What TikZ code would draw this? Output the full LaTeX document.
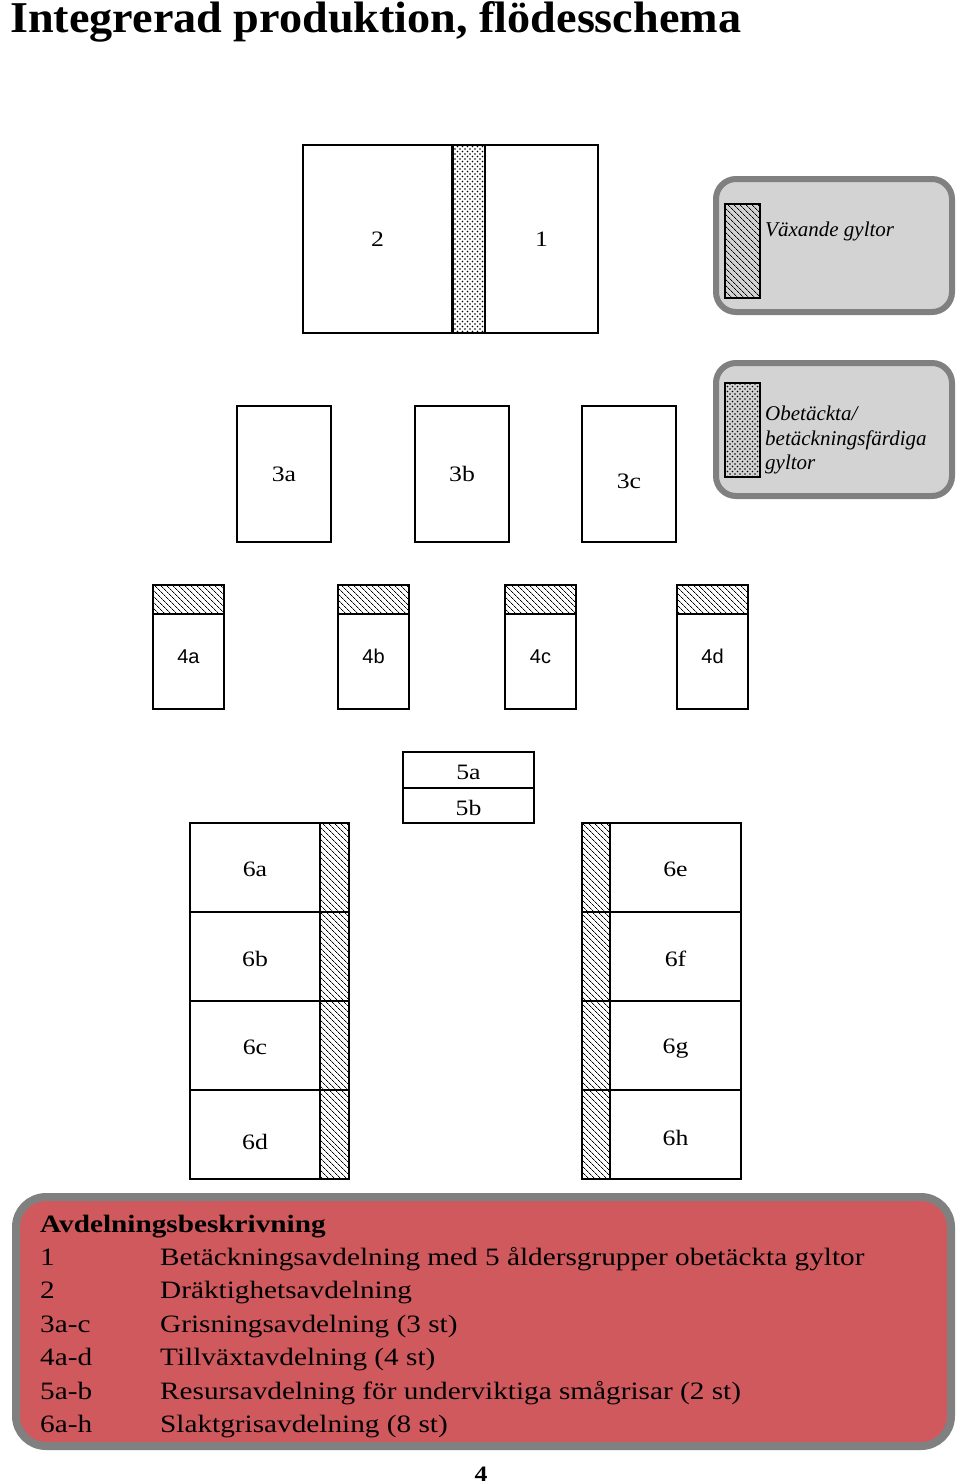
\documentclass[tikz,border=0pt]{standalone}
\usepackage{fontspec}
\setmainfont{Liberation Serif}[FakeStretch=1.17]
\setsansfont{Liberation Sans}
\newfontfamily\titlefont{Liberation Serif}[FakeStretch=1.05]
\newfontfamily\keyfont{Liberation Serif}
\usetikzlibrary{positioning, patterns, patterns.meta}
\definecolor{legend_gray}{RGB}{211,211,211}
\definecolor{frame_gray}{RGB}{128,128,128}
\definecolor{desc_red}{RGB}{208,89,94}
\pgfdeclarepatternformonly{gyltdots}{\pgfqpoint{-1pt}{-1pt}}{\pgfqpoint{4pt}{4pt}}{\pgfqpoint{5pt}{5pt}}{
	\pgfpathcircle{\pgfqpoint{0pt}{0pt}}{0.8pt}
	\pgfpathcircle{\pgfqpoint{2.5pt}{2.5pt}}{0.8pt}
	\pgfusepath{fill}
}
\newcommand\shiftlabel[2]{\raisebox{#1pt}[\height][\depth]{#2}}
\tikzset{
	room/.style={draw,line width=1.5pt,inner sep=0pt,outer sep=0pt,font=\fontsize{22}{26}\selectfont},
	hatchstrip/.style={draw,line width=1.5pt,inner sep=0pt,outer sep=0pt,pattern={Lines[angle=-45,distance=4pt,line width=0.8pt]}},
	dotstrip/.style={draw,line width=1.5pt,inner sep=0pt,outer sep=0pt,pattern=gyltdots},
	legendbox/.style={draw=frame_gray,fill=legend_gray,line width=6pt,rounded corners=20pt,inner sep=0pt},
	keytext/.style={anchor=base west,inner sep=0pt,font=\keyfont\itshape\fontsize{21}{25}\selectfont},
	desctext/.style={anchor=base west,inner sep=0pt,font=\fontsize{25}{30}\selectfont}
}

\begin{document}
\begin{tikzpicture}[x=1pt,y=-1pt]
		\useasboundingbox (0,0) rectangle (960,1484);
		\node[anchor=base west,inner sep=0pt,font=\titlefont\bfseries\fontsize{44}{50}\selectfont] (title) at (10,32) {Integrerad produktion, flödesschema};
		% betäckning och dräktighet
		\node[room,minimum width=149pt,minimum height=188pt] (r2) at (377.5,239) {2};
		\node[dotstrip,minimum width=33pt,minimum height=188pt,right=0pt of r2] (s12) {};
		\node[room,minimum width=113pt,minimum height=188pt,right=0pt of s12] (r1) {1};
		\draw[line width=3pt] (s12.north west) -- (s12.south west);
		% grisning
		\foreach\n/\x/\d in {a/284/0,b/462/0,c/629/-7}
		{
			\node[room,minimum width=94pt,minimum height=136pt] (r3\n) at (\x,474) {\shiftlabel{\d}{3\n}};
		}
		% tillväxt
		\foreach\n/\x in {a/188.5,b/373.5,c/540.5,d/712.5}
		{
			\node[room,font=\sffamily\fontsize{20}{24}\selectfont,minimum width=71pt,minimum height=95pt] (r4\n) at (\x,661.5) {\shiftlabel{5}{4\n}};
			\node[hatchstrip,minimum width=71pt,minimum height=29pt,above=0pt of r4\n] (s4\n) {};
		}
		% resurs
		\node[room,minimum width=131pt,minimum height=36pt] (r5a) at (468.5,770) {\shiftlabel{-2}{5a}};
		\node[room,minimum width=131pt,minimum height=35pt,below=0pt of r5a] (r5b) {\shiftlabel{-2}{5b}};
		% slaktgrisar
		\foreach\n/\m/\d/\e [count=\i from 0] in {a/e/-2/-2,b/f/-2/-2,c/g/-2/-3,d/h/-7/-3}
		{
			\pgfmathsetmacro\y{867.5+89*\i}
			\node[room,minimum width=130pt,minimum height=89pt] (r6\n) at (255,\y) {\shiftlabel{\d}{6\n}};
			\node[hatchstrip,minimum width=29pt,minimum height=89pt,right=0pt of r6\n] (s6\n) {};
			\node[room,minimum width=131pt,minimum height=89pt] (r6\m) at (675.5,\y) {\shiftlabel{\e}{6\m}};
			\node[hatchstrip,minimum width=28pt,minimum height=89pt,left=0pt of r6\m] (s6\m) {};
		}
		% teckenförklaring
		\node[legendbox,minimum width=236pt,minimum height=133pt] (leg1) at (834,245.5) {};
		\node[hatchstrip,minimum width=35pt,minimum height=94pt] (key1) at (742.5,251) {};
		\node[keytext] (txt1) at (765,236) {Växande gyltor};
		\node[legendbox,minimum width=236pt,minimum height=133pt] (leg2) at (834,429.5) {};
		\node[dotstrip,minimum width=35pt,minimum height=94pt] (key2) at (742.5,430) {};
		\node[keytext] (txt2a) at (765,420) {Obetäckta/};
		\node[keytext] (txt2b) at (765,445) {betäckningsfärdiga};
		\node[keytext] (txt2c) at (765,469) {gyltor};
		% avdelningsbeskrivning
		\node[draw=frame_gray,fill=desc_red,line width=8pt,rounded corners=30pt,inner sep=0pt,minimum width=935pt,minimum height=249pt] (desc) at (483.5,1321.5) {};
		\node[desctext,font=\bfseries\fontsize{25}{30}\selectfont] (desch) at (40,1232) {Avdelningsbeskrivning};
		\foreach\k/\t [count=\i] in {1/Betäckningsavdelning med 5 åldersgrupper obetäckta gyltor,2/Dräktighetsavdelning,3a-c/Grisningsavdelning (3 st),4a-d/Tillväxtavdelning (4 st),5a-b/Resursavdelning för underviktiga smågrisar (2 st),6a-h/Slaktgrisavdelning (8 st)}
		{
			\pgfmathsetmacro\y{1232+33.4*\i}
			\node[desctext] (dk\i) at (40,\y) {\k};
			\node[desctext] (dt\i) at (160,\y) {\t};
		}
		\node[anchor=base,inner sep=0pt,font=\bfseries\fontsize{22}{26}\selectfont] (pagenr) at (481,1481) {4};
	\end{tikzpicture}
\end{document}
